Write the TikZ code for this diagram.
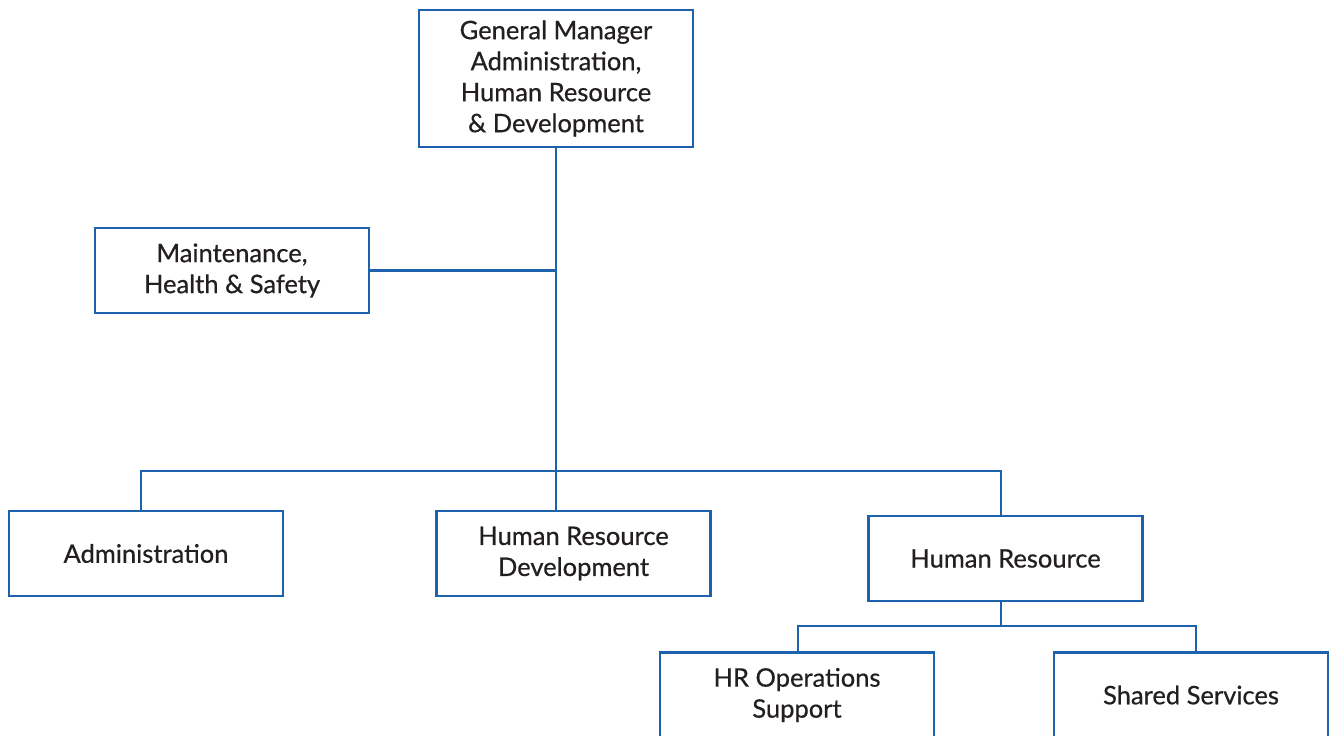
\documentclass[tikz,border=0pt]{standalone}
\usepackage{fontspec}
\setmainfont{Lato}[FakeBold=0.6]
\definecolor{orgblue}{HTML}{1D62AD}
\definecolor{orgtext}{HTML}{231F20}
\tikzset{
  unit/.style={draw=orgblue, line width=2.6pt, fill=white, text=orgtext,
               align=center, minimum width=274pt, minimum height=85pt,
               inner sep=0pt, font=\fontsize{25.5}{31}\selectfont},
  link/.style={draw=orgblue, line width=2.6pt}
}
\begin{document}
\begin{tikzpicture}[x=1pt, y=-1pt]
      \useasboundingbox (0,0) rectangle (1331,736);

      \node[unit, minimum height=137pt](gm) at (556, 78.5)
            {General Manager\\Administration,\\Human Resource\\\& Development};
      \node[unit](mhs) at (232, 270.5) {Maintenance,\\Health \& Safety};

      \node[unit](adm) at (146, 553.5) {Administration};
      \node[unit](hrd) at (573.5, 553.5) {Human Resource\\Development};
      \node[unit](hr) at (1005.5, 558.5) {Human Resource};

      \node[unit](hros) at (797, 695) {HR Operations\\Support};
      \node[unit](shs) at (1191, 695) {Shared Services};

      \coordinate(bus) at (556, 471);
      \coordinate(hrbus) at (1001, 626);

      \draw[link] (gm.south) -- (gm.south |- hrd.north);
      \draw[link] (mhs.east) -- (gm.south |- mhs.east);
      \draw[link] ([xshift=-5pt]adm.north) |- (bus) -| ([xshift=-4.5pt]hr.north);
      \draw[link] ([xshift=-4.5pt]hr.south) -- (hrbus);
      \draw[link] ([xshift=1pt]hros.north) |- (hrbus) -| ([xshift=5pt]shs.north);
\end{tikzpicture}
\end{document}
